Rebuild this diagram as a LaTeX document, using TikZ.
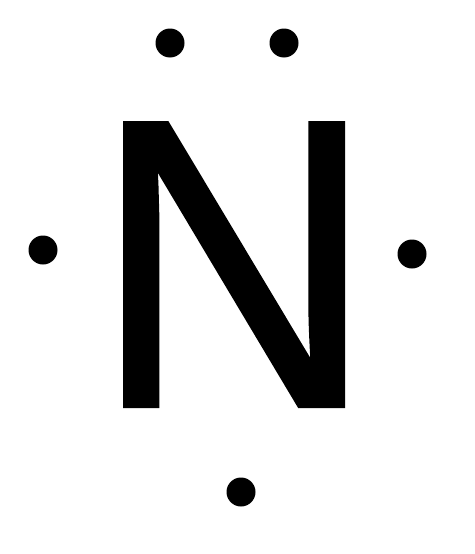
\documentclass[tikz,border=0pt]{standalone}
\usepackage{fontspec}
\setmainfont{Liberation Sans}
\newfontfamily\atomfont{Liberation Sans}[FakeBold=1.0]
\begin{document}
\begin{tikzpicture}[x=1pt,y=-1pt,
  electron/.style={circle,fill=black,inner sep=0pt,minimum size=29pt}]
\useasboundingbox (0,0) rectangle (474,554);
\node[inner sep=0pt,anchor=base,xscale=0.95] (atom) at (234,406) {\fontsize{411}{411}\atomfont N};
\node[electron] (e1) at (170,43) {};
\node[electron] (e2) at (284,43) {};
\node[electron] (e3) at (43,250) {};
\node[electron] (e4) at (412,254) {};
\node[electron] (e5) at (241,492) {};
\end{tikzpicture}
\end{document}
